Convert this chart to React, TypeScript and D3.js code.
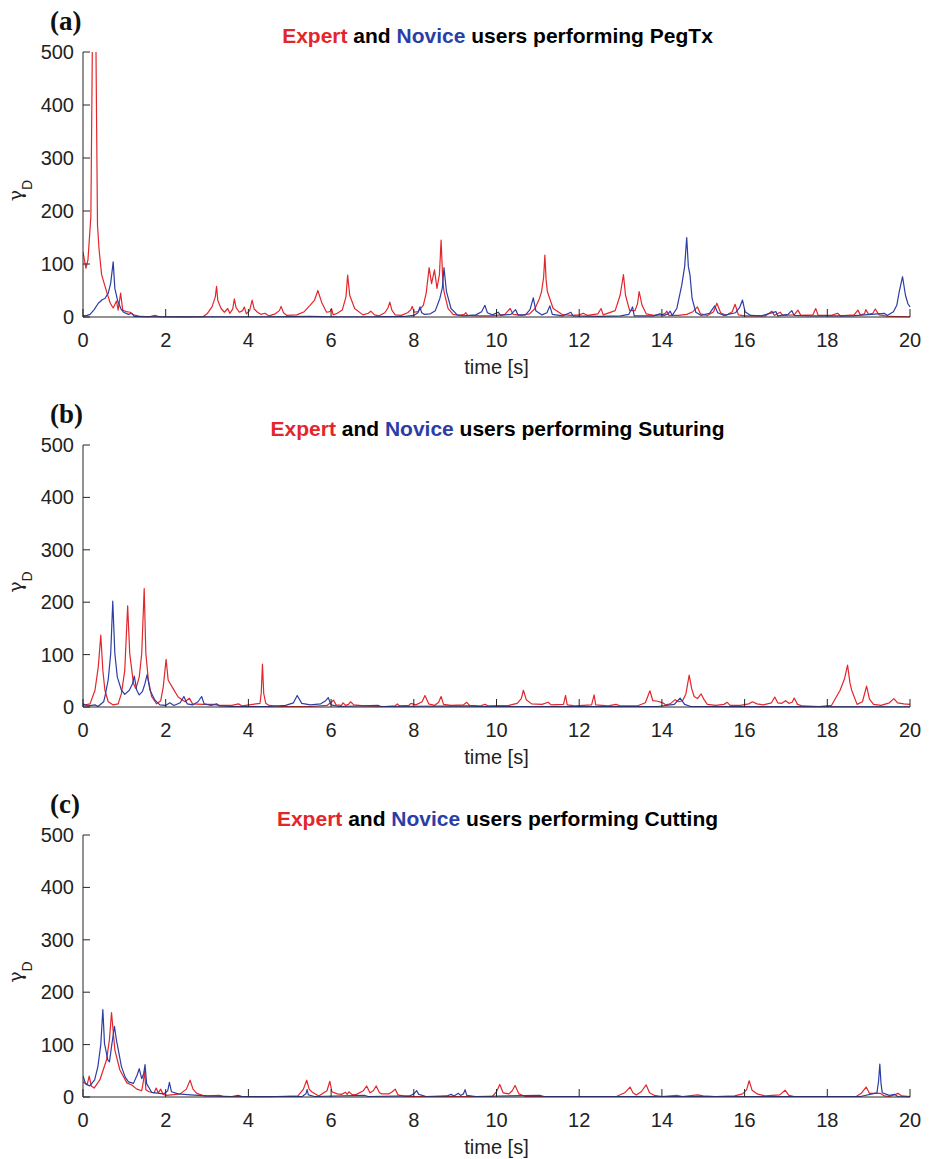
import React from "react";
import * as d3 from "d3";

type Pt = [number, number];

const xTicks = [0, 2, 4, 6, 8, 10, 12, 14, 16, 18, 20];
const yTicks = [0, 100, 200, 300, 400, 500];
const tasks = ["PegTx", "Suturing", "Cutting"];
const panelLetters = ["(a)", "(b)", "(c)"];

const expertA: Pt[] = [[0,123],[0.07,92],[0.12,108],[0.19,189],[0.27,900],[0.35,174],[0.39,126],[0.45,80],[0.57,48],[0.66,26],[0.73,17],[0.81,30],[0.85,13],[0.91,45],[0.96,13],[1.05,10],[1.14,9],[1.22,4],[1.4,1],[1.6,0.5],[1.74,3],[1.85,0.5],[2.5,0],[2.9,0.5],[3.0,6],[3.12,19],[3.2,38],[3.23,58],[3.26,31],[3.34,16],[3.42,9],[3.5,16],[3.55,7],[3.62,15],[3.66,34],[3.7,18],[3.78,9],[3.86,12],[3.9,19],[3.95,6],[4.03,12],[4.09,32],[4.14,15],[4.22,9],[4.3,5],[4.4,7],[4.5,2],[4.65,6],[4.75,12],[4.79,20],[4.85,8],[4.93,3],[5.17,4],[5.35,10],[5.49,22],[5.6,32],[5.68,50],[5.77,28],[5.89,9],[5.97,10],[6.01,16],[6.05,4],[6.15,7],[6.27,13],[6.36,38],[6.4,79],[6.45,41],[6.57,16],[6.77,4],[6.9,7],[6.96,11],[7.05,4],[7.15,2],[7.3,8],[7.38,18],[7.42,28],[7.47,13],[7.55,4],[7.7,3],[7.85,8],[7.93,14],[7.96,20],[8.01,9],[8.1,10],[8.23,22],[8.3,45],[8.37,93],[8.43,63],[8.5,89],[8.56,54],[8.62,80],[8.66,145],[8.7,70],[8.73,48],[8.83,16],[8.95,5],[9.1,3],[9.22,5],[9.26,8],[9.3,3],[9.6,2],[9.9,2],[10.2,5],[10.33,16],[10.4,5],[10.6,3],[10.8,6],[10.93,16],[11.04,35],[11.09,48],[11.14,75],[11.17,117],[11.2,70],[11.23,48],[11.37,16],[11.58,5],[11.8,3],[12.0,4],[12.1,7],[12.2,3],[12.45,6],[12.53,16],[12.58,4],[12.87,12],[12.99,41],[13.07,80],[13.12,41],[13.22,12],[13.35,12],[13.41,25],[13.45,48],[13.52,22],[13.62,6],[13.8,3],[14.0,4],[14.08,7],[14.12,11],[14.17,3],[14.4,3],[14.6,5],[14.75,10],[14.86,19],[14.93,6],[15.1,3],[15.25,10],[15.33,26],[15.42,8],[15.55,3],[15.7,10],[15.77,24],[15.85,4],[16.0,2],[16.5,2],[16.66,11],[16.72,3],[16.86,9],[16.92,3],[17.2,4],[17.29,13],[17.36,3],[17.65,4],[17.72,16],[17.78,3],[18.1,3],[18.25,7],[18.32,2],[18.65,4],[18.74,13],[18.8,4],[18.9,6],[18.93,14],[19.0,5],[19.1,7],[19.16,15],[19.25,4],[19.5,1],[20,0.5]];

const noviceA: Pt[] = [[0,2],[0.1,3],[0.17,5],[0.27,14],[0.37,26],[0.47,33],[0.53,35],[0.61,45],[0.67,64],[0.73,104],[0.77,54],[0.84,30],[0.92,15],[0.98,9],[1.1,5],[1.18,7],[1.24,1],[1.5,0.5],[3,0.5],[4.5,0.5],[5.5,1],[6,0.5],[7,0.5],[7.8,1],[8.0,3],[8.1,8],[8.15,19],[8.19,8],[8.25,5],[8.4,6],[8.52,12],[8.63,35],[8.69,55],[8.73,93],[8.79,48],[8.9,16],[9.05,4],[9.2,2],[9.5,4],[9.64,10],[9.72,22],[9.78,8],[9.9,4],[10.04,9],[10.1,3],[10.35,5],[10.46,14],[10.52,4],[10.7,4],[10.81,14],[10.89,36],[10.95,12],[11.1,4],[11.22,8],[11.29,21],[11.35,5],[11.6,2],[11.8,9],[11.85,2],[12.5,1],[13.0,2],[13.2,5],[13.29,19],[13.33,2],[13.8,2],[13.95,6],[14.05,3],[14.15,6],[14.2,11],[14.25,3],[14.36,16],[14.48,60],[14.55,95],[14.6,150],[14.64,95],[14.68,79],[14.73,35],[14.82,9],[14.95,3],[15.15,7],[15.28,21],[15.35,8],[15.5,3],[15.78,8],[15.88,18],[15.95,32],[16.01,10],[16.15,3],[16.4,2],[16.76,10],[16.8,2],[17.05,5],[17.14,12],[17.2,3],[17.6,2],[18.0,2],[18.6,2],[19.38,7],[19.45,3],[19.6,10],[19.68,22],[19.74,48],[19.82,76],[19.89,41],[19.95,25],[20,19]];

const expertB: Pt[] = [[0,3],[0.17,6],[0.29,32],[0.37,77],[0.43,137],[0.48,70],[0.53,32],[0.61,10],[0.73,4],[0.85,6],[0.93,26],[1.01,70],[1.08,193],[1.13,102],[1.22,45],[1.28,35],[1.36,57],[1.42,102],[1.48,226],[1.52,102],[1.58,52],[1.66,20],[1.78,6],[1.88,12],[1.94,38],[2.01,91],[2.06,51],[2.18,35],[2.3,19],[2.47,10],[2.57,17],[2.65,6],[2.9,5],[3.15,5],[3.3,3],[3.6,3],[3.76,6],[3.85,2],[4.28,7],[4.31,26],[4.34,82],[4.37,26],[4.42,7],[4.5,3],[4.8,1],[5.5,1],[5.9,3],[6.06,13],[6.12,4],[6.25,3],[6.29,8],[6.35,3],[6.42,5],[6.47,10],[6.55,4],[6.8,2],[7.3,1],[7.55,2],[7.6,6],[7.65,2],[7.88,3],[7.93,7],[8.05,4],[8.2,10],[8.27,22],[8.36,6],[8.5,3],[8.6,9],[8.66,20],[8.72,5],[8.9,3],[9.2,4],[9.28,9],[9.35,3],[9.6,2],[9.72,5],[9.8,2],[10.3,3],[10.5,7],[10.6,16],[10.65,32],[10.72,14],[10.85,6],[11.1,5],[11.25,9],[11.32,4],[11.62,5],[11.67,22],[11.71,4],[11.9,2],[12.3,4],[12.36,23],[12.4,4],[12.7,2],[12.89,5],[13.0,2],[13.4,2],[13.6,8],[13.71,31],[13.78,12],[13.9,11],[14.02,8],[14.1,4],[14.2,6],[14.32,14],[14.4,10],[14.5,12],[14.58,25],[14.66,61],[14.72,35],[14.78,20],[14.86,16],[14.95,25],[15.02,14],[15.1,5],[15.3,3],[15.5,5],[15.58,9],[15.65,3],[15.9,3],[16.1,6],[16.19,10],[16.3,6],[16.45,4],[16.65,8],[16.73,19],[16.8,8],[16.9,7],[16.99,12],[17.07,7],[17.15,9],[17.2,17],[17.28,5],[17.4,2],[17.8,1],[18.1,3],[18.31,32],[18.42,55],[18.49,80],[18.55,45],[18.59,32],[18.72,5],[18.85,10],[18.95,40],[19.02,15],[19.12,5],[19.3,3],[19.5,8],[19.61,16],[19.7,8],[19.85,6],[20,5]];

const noviceB: Pt[] = [[0,6],[0.12,2],[0.3,4],[0.36,1],[0.5,10],[0.53,20],[0.61,52],[0.67,102],[0.72,202],[0.77,102],[0.83,57],[0.93,32],[1.01,24],[1.12,32],[1.2,45],[1.24,59],[1.3,32],[1.36,23],[1.44,30],[1.5,45],[1.55,62],[1.62,32],[1.74,13],[1.86,4],[2.0,3],[2.1,8],[2.2,3],[2.35,8],[2.44,20],[2.52,6],[2.65,4],[2.78,10],[2.87,20],[2.93,6],[3.1,3],[3.23,6],[3.3,2],[3.6,1],[4.5,1],[4.9,3],[5.09,8],[5.18,22],[5.29,7],[5.5,4],[5.75,6],[5.87,12],[5.93,18],[6.0,4],[6.2,1],[7.13,3],[7.2,1],[9.46,2],[9.5,1],[13.9,1],[14.3,5],[14.44,17],[14.55,5],[14.7,1],[20,0.5]];

const expertC: Pt[] = [[0,29],[0.1,23],[0.15,40],[0.2,21],[0.27,17],[0.41,33],[0.57,71],[0.64,110],[0.69,161],[0.77,90],[0.89,52],[1.06,27],[1.18,23],[1.3,15],[1.42,12],[1.46,30],[1.49,50],[1.52,14],[1.6,10],[1.72,8],[1.77,17],[1.82,8],[1.88,15],[1.94,5],[2.02,3],[2.35,6],[2.5,15],[2.59,32],[2.66,15],[2.75,7],[2.95,2],[3.3,3],[3.4,1],[4.5,0.5],[5.2,2],[5.33,15],[5.41,32],[5.47,15],[5.53,10],[5.7,2],[5.9,12],[5.97,30],[6.02,10],[6.15,6],[6.25,5],[6.35,9],[6.39,5],[6.43,10],[6.5,5],[6.59,4],[6.78,12],[6.86,21],[6.94,8],[7.02,12],[7.09,21],[7.17,8],[7.23,6],[7.4,6],[7.48,10],[7.55,15],[7.62,4],[7.8,1],[9.9,1],[10.0,10],[10.08,24],[10.16,8],[10.3,6],[10.38,12],[10.45,22],[10.54,6],[10.7,1],[12.9,1],[13.1,8],[13.23,19],[13.3,8],[13.38,4],[13.5,10],[13.62,23],[13.7,8],[13.82,3],[14.0,1],[14.36,3],[14.5,1],[14.86,4],[15.0,2],[15.3,1],[15.76,2],[15.95,6],[16.05,14],[16.11,31],[16.18,13],[16.3,6],[16.5,2],[16.85,4],[16.98,13],[17.07,3],[17.2,1],[18.7,1],[18.82,7],[18.94,19],[19.02,7],[19.28,7],[19.38,2],[19.5,1],[19.65,5],[19.71,7],[19.8,2],[20,1]];

const noviceC: Pt[] = [[0,40],[0.06,26],[0.16,21],[0.28,32],[0.36,58],[0.43,100],[0.48,167],[0.52,102],[0.6,71],[0.64,67],[0.69,96],[0.76,135],[0.81,108],[0.93,58],[1.02,38],[1.1,29],[1.22,26],[1.31,42],[1.36,54],[1.42,35],[1.47,45],[1.5,62],[1.54,25],[1.66,9],[1.95,6],[2.05,12],[2.09,28],[2.14,10],[2.3,6],[2.6,4],[3.0,2],[3.6,1],[3.75,3],[3.85,1],[5.3,1],[5.39,6],[5.42,14],[5.45,4],[5.6,1],[6.8,3],[6.9,1],[7.9,2],[8.0,6],[8.07,12],[8.12,5],[8.3,1],[8.8,2],[8.9,5],[8.97,2],[9.08,7],[9.13,3],[9.2,6],[9.24,14],[9.28,3],[9.5,1],[11.05,3],[11.15,1],[18.8,1],[19.2,8],[19.24,30],[19.27,63],[19.3,25],[19.33,8],[19.5,3],[19.63,5],[19.7,1],[20,0.5]];

const expertSeries = [expertA, expertB, expertC];
const noviceSeries = [noviceA, noviceB, noviceC];

const RED = "#e3262b";
const BLUE = "#2c3da6";
const AXIS = "#262626";

const X0 = 83;
const X1 = 910;
const panelTops = [52, 445, 835];
const panelBottoms = [317, 707, 1097];

function Panel({ i }: { i: number }) {
  const top = panelTops[i];
  const bottom = panelBottoms[i];
  const x = d3.scaleLinear().domain([0, 20]).range([X0, X1]);
  const y = d3.scaleLinear().domain([0, 500]).range([bottom, top]);
  const line = d3
    .line<Pt>()
    .x((d) => x(d[0]))
    .y((d) => y(d[1]));
  const clipId = `clip-${i}`;
  const font = "'Liberation Sans', Arial, sans-serif";
  return (
    <g>
      <defs>
        <clipPath id={clipId}>
          <rect x={X0} y={top} width={X1 - X0 + 1} height={bottom - top + 1} />
        </clipPath>
      </defs>
      <text
        x={50}
        y={top - 22}
        fontFamily="'Liberation Serif', 'Times New Roman', serif"
        fontWeight="bold"
        fontSize={27}
        fill="#111"
      >
        {panelLetters[i]}
      </text>
      <text
        x={(X0 + X1) / 2 + 1}
        y={top - 9}
        textAnchor="middle"
        fontFamily={font}
        fontWeight="bold"
        fontSize={21}
        fill="#000"
      >
        <tspan fill={RED}>Expert</tspan>
        <tspan> and </tspan>
        <tspan fill={BLUE}>Novice</tspan>
        <tspan> users performing {tasks[i]}</tspan>
      </text>
      <g clipPath={`url(#${clipId})`} fill="none" strokeWidth={1.2} strokeLinejoin="round">
        <path d={line(expertSeries[i]) || ""} stroke={RED} />
        <path d={line(noviceSeries[i]) || ""} stroke={BLUE} />
      </g>
      <line x1={X0} x2={X0} y1={top} y2={bottom} stroke={AXIS} strokeWidth={1} />
      <line x1={X0} x2={X1} y1={bottom} y2={bottom} stroke={AXIS} strokeWidth={1} />
      {xTicks.map((t) => (
        <g key={`xt${t}`}>
          <line x1={x(t)} x2={x(t)} y1={bottom} y2={bottom - 8} stroke={AXIS} strokeWidth={1} />
          <text
            x={x(t)}
            y={bottom + 30}
            textAnchor="middle"
            fontFamily={font}
            fontSize={20}
            fill="#222"
          >
            {t}
          </text>
        </g>
      ))}
      {yTicks.map((v) => (
        <g key={`yt${v}`}>
          <line x1={X0} x2={X0 + 7} y1={y(v)} y2={y(v)} stroke={AXIS} strokeWidth={1} />
          <text
            x={74}
            y={y(v) + 7}
            textAnchor="end"
            fontFamily={font}
            fontSize={20}
            fill="#222"
          >
            {v}
          </text>
        </g>
      ))}
      <text
        x={(X0 + X1) / 2}
        y={bottom + 57}
        textAnchor="middle"
        fontFamily={font}
        fontSize={20}
        fill="#222"
      >
        time [s]
      </text>
      <text
        transform={`translate(22, ${(top + bottom) / 2 + 6}) rotate(-90)`}
        textAnchor="middle"
        fill="#222"
      >
        <tspan fontSize={19} fontFamily="'DejaVu Serif', serif">γ</tspan>
        <tspan fontSize={14} dy={10} fontFamily={font}>D</tspan>
      </text>
    </g>
  );
}

export default function App() {
  return (
    <svg
      width={936}
      height={1159}
      style={{ position: "absolute", left: 0, top: 0, background: "#fff" }}
    >
      <rect x={0} y={0} width={936} height={1159} fill="#fff" />
      {[0, 1, 2].map((i) => (
        <Panel key={i} i={i} />
      ))}
    </svg>
  );
}
